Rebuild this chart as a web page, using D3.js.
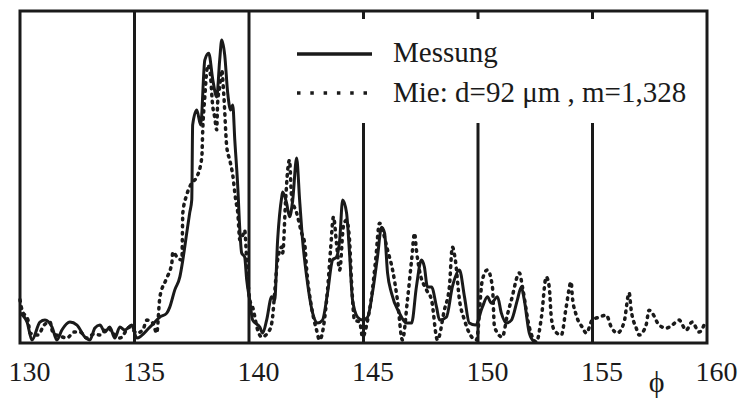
<!DOCTYPE html>
<html>
<head>
<meta charset="utf-8">
<script src="https://cdn.jsdelivr.net/npm/d3@7"></script>
<style>
  body { margin: 0; background: #fff; }
</style>
</head>
<body>
<div id="chart"></div>
<script>
// measured scattering intensity (solid) - angle in degrees, intensity in % of frame height
const measAngle = [130.0, 130.31, 130.52, 130.87, 131.09, 131.4, 131.61, 131.83, 132.18, 132.49, 132.83, 133.05,
  133.27, 133.49, 133.71, 133.92, 134.14, 134.36, 134.58, 134.88, 135.1, 135.67, 136.11, 136.41, 136.54, 136.76,
  136.98, 137.11, 137.28, 137.41, 137.5, 137.54, 137.72, 137.89, 138.07, 138.24, 138.42, 138.59, 138.72, 138.81,
  138.94, 139.07, 139.2, 139.29, 139.38, 139.51, 139.6, 139.68, 139.81, 139.9, 140.03, 140.16, 140.47, 140.6,
  140.77, 140.99, 141.12, 141.25, 141.43, 141.47, 141.64, 141.77, 141.91, 142.08, 142.21, 142.34, 142.52, 142.78,
  143.0, 143.21, 143.43, 143.65, 143.82, 143.96, 144.09, 144.26, 144.39, 144.52, 144.74, 144.96, 145.18, 145.39,
  145.61, 145.79, 145.92, 146.05, 146.22, 146.57, 146.88, 147.1, 147.31, 147.53, 147.66, 147.79, 147.97, 148.19,
  148.32, 148.62, 148.88, 149.19, 149.41, 149.62, 149.89, 150.19, 150.41, 150.58, 150.85, 151.02, 151.24, 151.46,
  151.72, 151.89, 152.02, 152.24, 152.46]
const measValue = [9.0, 6.3, 0.9, 6.3, 6.9, 4.8, 0.9, 3.9, 6.3, 5.4, 1.8, 0.9,
  4.5, 5.4, 3.3, 4.8, 1.5, 4.8, 3.9, 5.4, 1.5, 4.8, 7.8, 9.0, 10.8, 16.0,
  19.9, 25.0, 33.1, 39.2, 43.1, 65.7, 70.2, 65.7, 85.2, 87.3, 79.2, 74.1, 85.2, 91.3,
  86.7, 75.3, 70.2, 71.7, 61.1, 47.0, 34.0, 27.1, 25.9, 19.0, 13.0, 6.9, 4.8, 3.0,
  6.9, 13.9, 13.0, 31.0, 44.0, 45.5, 42.2, 38.0, 43.1, 55.7, 43.1, 31.0, 19.9, 9.0,
  6.0, 6.9, 15.1, 25.0, 25.9, 31.0, 43.1, 39.2, 27.1, 13.0, 7.8, 6.9, 7.8, 15.1,
  25.9, 34.9, 33.1, 21.1, 15.1, 9.0, 6.0, 6.0, 16.9, 25.0, 22.9, 16.9, 16.9, 10.8,
  6.9, 7.8, 16.9, 22.0, 13.9, 6.0, 5.4, 10.8, 13.9, 12.0, 13.9, 9.0, 6.0, 6.9,
  13.0, 16.9, 13.0, 3.0, 0.3]

// Mie theory (dotted)
const mieAngle = [130.0, 130.09, 130.35, 130.44, 130.79, 131.05, 131.31, 131.44, 131.74, 132.05, 132.36, 132.62,
  132.92, 133.23, 133.49, 133.84, 134.1, 134.36, 134.8, 135.1, 135.36, 135.54, 135.8, 135.97, 136.11, 136.37,
  136.63, 136.67, 136.89, 137.07, 137.11, 137.28, 137.5, 137.72, 137.94, 137.98, 138.07, 138.2, 138.29, 138.42,
  138.5, 138.59, 138.63, 138.72, 138.81, 138.9, 139.03, 139.16, 139.29, 139.42, 139.51, 139.6, 139.73, 139.81,
  139.9, 140.03, 140.16, 140.38, 140.55, 140.9, 141.03, 141.12, 141.25, 141.43, 141.47, 141.6, 141.69, 141.77,
  141.86, 142.08, 142.3, 142.43, 142.52, 142.73, 142.95, 143.08, 143.43, 143.56, 143.69, 143.82, 143.96, 144.13,
  144.26, 144.39, 144.48, 144.61, 144.83, 144.96, 145.18, 145.35, 145.53, 145.7, 145.83, 146.05, 146.27, 146.48,
  146.7, 146.92, 147.1, 147.23, 147.31, 147.44, 147.75, 147.97, 148.23, 148.53, 148.75, 148.88, 149.01, 149.19,
  149.41, 149.62, 149.93, 150.19, 150.41, 150.63, 150.72, 151.06, 151.28, 151.46, 151.81, 151.94, 152.24, 152.55,
  152.77, 152.98, 153.11, 153.2, 153.33, 153.64, 153.85, 154.07, 154.12, 154.29, 154.55, 154.73, 154.99, 155.29,
  155.6, 155.82, 156.08, 156.38, 156.6, 156.69, 156.91, 157.04, 157.34, 157.47, 157.61, 157.91, 158.22, 158.48,
  158.78, 159.09, 159.35, 159.66, 159.87]
const mieValue = [13.0, 9.9, 6.9, 3.0, 2.4, 5.4, 6.3, 3.0, 2.1, 1.5, 3.3, 3.3,
  1.5, 2.7, 2.4, 4.5, 2.7, 1.5, 4.8, 3.0, 3.9, 6.9, 6.0, 3.0, 13.9, 19.0,
  24.1, 27.4, 25.6, 25.0, 39.2, 44.6, 48.2, 50.0, 56.0, 64.2, 74.1, 83.7, 82.2, 71.1,
  68.1, 64.2, 72.3, 77.1, 82.2, 74.7, 59.0, 55.1, 50.6, 43.1, 39.2, 31.0, 32.5, 34.0,
  25.0, 13.0, 10.8, 3.9, 1.8, 3.9, 7.8, 15.1, 25.0, 28.9, 27.1, 43.1, 52.1, 55.1,
  44.0, 39.2, 33.1, 30.1, 22.0, 10.8, 3.9, 0.9, 16.0, 28.0, 38.0, 30.1, 22.0, 35.5,
  37.0, 31.0, 18.1, 6.9, 6.3, 1.8, 6.9, 13.9, 25.0, 36.1, 34.0, 28.0, 22.0, 13.0,
  0.9, 13.0, 25.0, 33.1, 28.0, 22.0, 16.0, 13.0, 0.9, 9.9, 16.9, 28.9, 25.0, 13.0,
  6.9, 3.0, 0.9, 19.0, 22.0, 16.9, 4.8, 1.8, 8.4, 13.0, 21.1, 16.9, 4.8, 0.3,
  7.8, 19.9, 16.9, 7.8, 3.9, 2.4, 10.8, 18.4, 13.9, 8.4, 4.8, 3.0, 6.9, 7.8,
  8.4, 4.8, 3.0, 6.3, 15.1, 9.9, 4.5, 2.4, 5.4, 9.9, 9.0, 5.4, 4.5, 5.4,
  6.9, 3.9, 6.3, 3.3, 5.4]

const xTicks = [130, 135, 140, 145, 150, 155, 160]
const gridLines = [135, 140, 145, 150, 155]
const legendLabels = ["Messung", "Mie: d=92 \u03BCm , m=1,328"]
const xLabel = "\u03D5"

const width = 739
const height = 401
const margin = { top: 11, right: 32, bottom: 58, left: 20 }
const dataWidth = width - margin.left - margin.right
const dataHeight = height - margin.top - margin.bottom
const ink = "#1a1a1a"
const serif = "'Liberation Serif'"

let svg = d3.select("#chart").append("svg")
  .attr("width", width)
  .attr("height", height)
  .append("g")
  .attr("transform", "translate(" + margin.left + "," + margin.top + ")")

var x = d3.scaleLinear().domain([130, 160]).range([0, dataWidth])
var y = d3.scaleLinear().domain([0, 100]).range([dataHeight, 0])

// vertical grid lines
svg.append("g").selectAll("line")
  .data(gridLines)
  .join("line")
  .attr("x1", d => x(d)).attr("x2", d => x(d))
  .attr("y1", 0).attr("y2", dataHeight)
  .attr("stroke", ink)
  .attr("stroke-width", 3)

// white patch behind the legend interrupts the grid lines
svg.append("rect")
  .attr("x", 268).attr("y", 8)
  .attr("width", 412).attr("height", 104)
  .attr("fill", "#fff")

// frame
svg.append("rect")
  .attr("x", 0).attr("y", 0)
  .attr("width", dataWidth).attr("height", dataHeight)
  .attr("fill", "none")
  .attr("stroke", ink)
  .attr("stroke-width", 3)

// x axis labels, set a bit right of the grid lines like in the original
let xAxis = svg.append("g")
  .attr("transform", "translate(9," + dataHeight + ")")
  .call(d3.axisBottom(x).tickValues(xTicks).tickSize(0).tickPadding(18).tickFormat(d3.format("d")))
xAxis.select(".domain").remove()
xAxis.selectAll("text")
  .style("font-family", serif)
  .style("font-size", "28px")
  .attr("fill", ink)

svg.append("text")
  .attr("x", x(157.8))
  .attr("y", dataHeight + 49)
  .attr("text-anchor", "middle")
  .style("font-family", serif)
  .style("font-size", "30px")
  .attr("fill", ink)
  .text(xLabel)

let measData = measAngle.map((a, i) => [a, measValue[i]])
let mieData = mieAngle.map((a, i) => [a, mieValue[i]])

let line = d3.line()
  .x(d => x(d[0]))
  .y(d => y(d[1]))
  .curve(d3.curveMonotoneX)

svg.append("path")
  .datum(mieData)
  .attr("fill", "none")
  .attr("stroke", ink)
  .attr("stroke-width", 3.5)
  .attr("stroke-linecap", "round")
  .attr("stroke-dasharray", "1.5,5.5")
  .attr("d", line)

svg.append("path")
  .datum(measData)
  .attr("fill", "none")
  .attr("stroke", ink)
  .attr("stroke-width", 3)
  .attr("stroke-linejoin", "round")
  .attr("d", line)

// legend
let legend = svg.append("g").attr("transform", "translate(277,0)")
legend.append("line")
  .attr("x1", 0).attr("x2", 75).attr("y1", 43).attr("y2", 43)
  .attr("stroke", ink).attr("stroke-width", 3.5)
legend.append("line")
  .attr("x1", 0).attr("x2", 78).attr("y1", 82).attr("y2", 82)
  .attr("stroke", ink).attr("stroke-width", 3.5)
  .attr("stroke-dasharray", "3.5,9.8")
legend.selectAll("text")
  .data(legendLabels)
  .join("text")
  .attr("x", 96)
  .attr("y", (d, i) => 51 + i * 40)
  .style("font-family", serif)
  .style("font-size", "29px")
  .attr("fill", ink)
  .text(d => d)
</script>
</body>
</html>
